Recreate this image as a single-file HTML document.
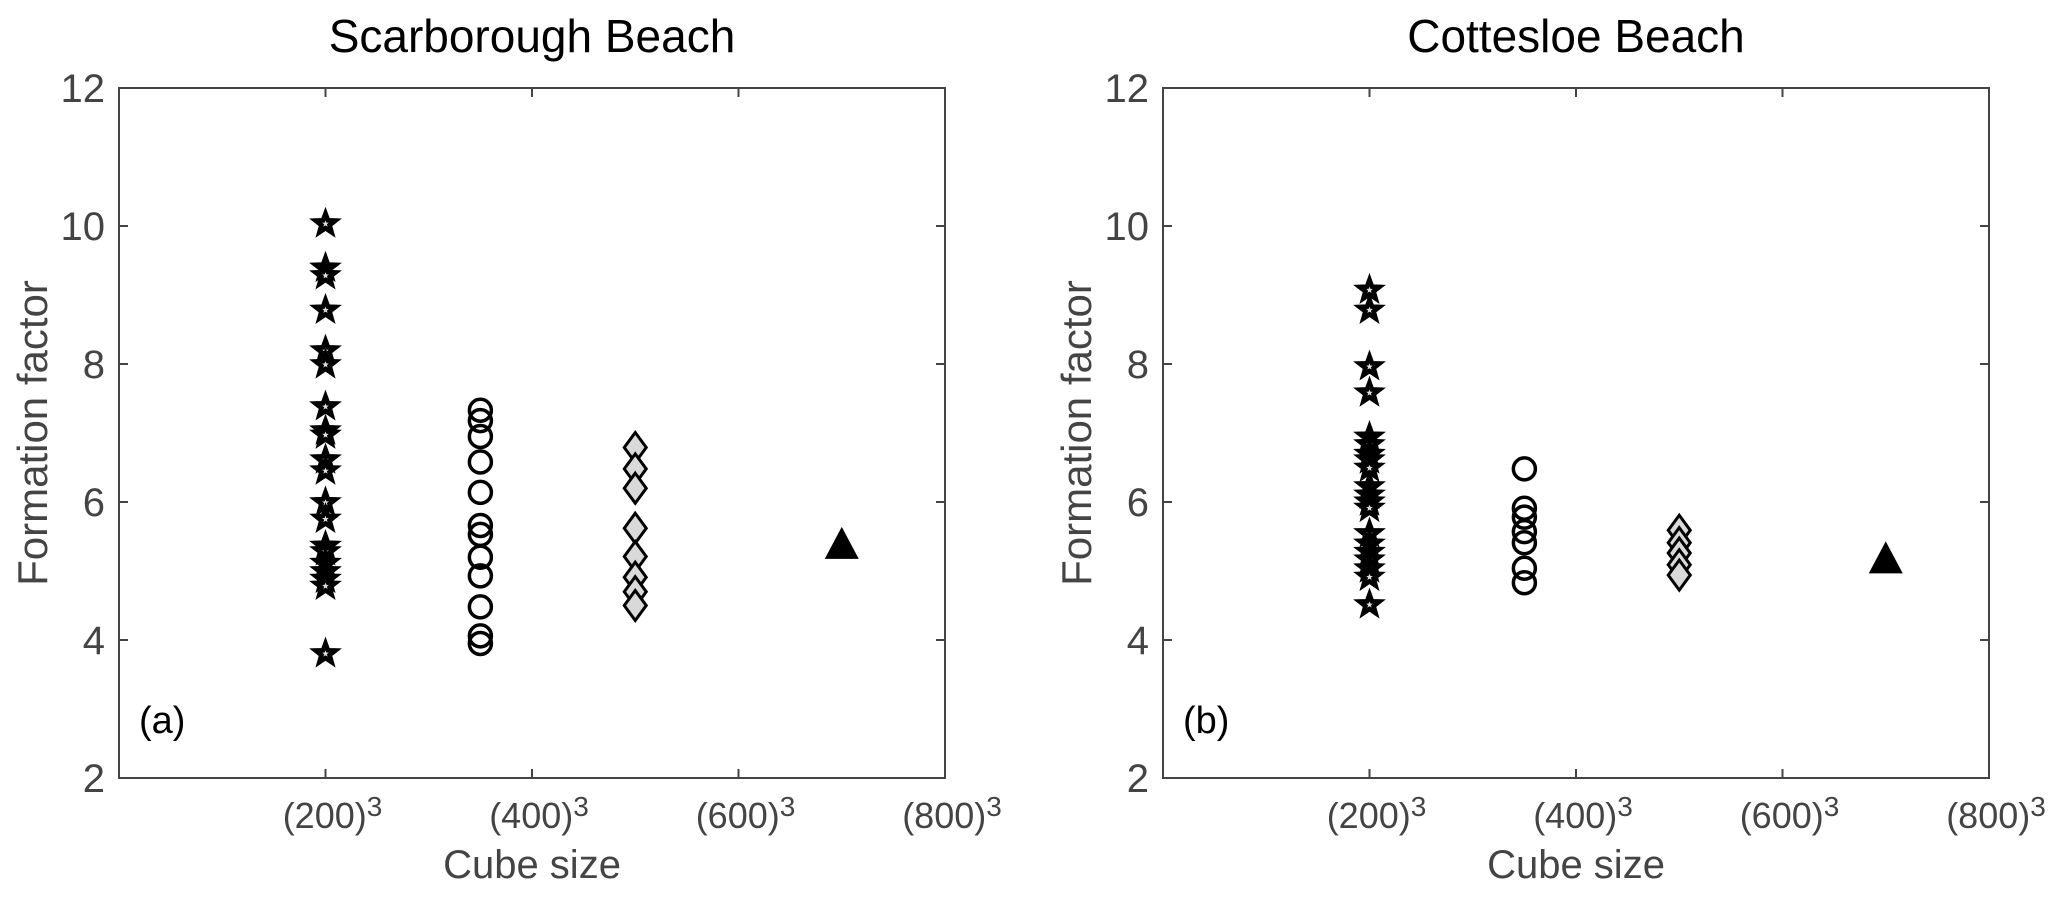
<!DOCTYPE html>
<html><head><meta charset="utf-8"><style>
html,body{margin:0;padding:0;background:#fff;}
svg{display:block;font-family:"Liberation Sans",sans-serif;}
</style></head><body>
<svg id="fig" width="2067" height="900" viewBox="0 0 2067 900"></svg>
<script>
const xTicks = [200, 400, 600, 800];
const xTickLabels = ["(200)", "(400)", "(600)", "(800)"];
const yTicks = [2, 4, 6, 8, 10, 12];
const panelTitles = ["Scarborough Beach", "Cottesloe Beach"];
const panelTags = ["(a)", "(b)"];
const seriesX = [200, 350, 500, 700];
const scarStars = [10.06, 9.42, 9.31, 8.81, 8.22, 8.02, 7.41, 7.06, 7.0, 6.64, 6.48, 6.02, 5.78, 5.39, 5.31, 5.14, 5.02, 4.91, 4.81, 3.83];
const scarCircles = [7.33, 7.18, 6.95, 6.58, 6.14, 5.66, 5.53, 5.2, 4.93, 4.48, 4.06, 3.95];
const scarDiamonds = [6.79, 6.48, 6.2, 5.62, 5.21, 4.91, 4.7, 4.5];
const scarTriangle = [5.35];
const cottStars = [9.10, 8.81, 7.99, 7.61, 6.97, 6.86, 6.72, 6.64, 6.52, 6.25, 6.13, 6.03, 5.94, 5.57, 5.42, 5.30, 5.19, 5.06, 4.94, 4.54];
const cottCircles = [6.48, 5.91, 5.78, 5.57, 5.41, 5.04, 4.83];
const cottDiamonds = [5.59, 5.41, 5.26, 5.09, 4.94];
const cottTriangle = [5.14];

const NS = "http://www.w3.org/2000/svg";
const svg = document.getElementById("fig");
function mk(tag, attrs, parent, text) {
  const e = document.createElementNS(NS, tag);
  for (const k in attrs) e.setAttribute(k, attrs[k]);
  if (text !== undefined) e.textContent = text;
  parent.appendChild(e);
  return e;
}
const plotTop = 88, plotBottom = 778, plotW = 826;
const yMin = 2, yMax = 12, xMin = 0, xMax = 800;
function starPts(cx, cy, R, r) {
  let p = [];
  for (let i = 0; i < 10; i++) {
    const a = -Math.PI / 2 + i * Math.PI / 5;
    const rr = i % 2 ? r : R;
    p.push((cx + rr * Math.cos(a)).toFixed(1) + "," + (cy + rr * Math.sin(a)).toFixed(1));
  }
  return p.join(" ");
}
function drawPanel(idx, left, stars, circles, diamonds, tri) {
  const g = mk("g", {}, svg);
  
  
  const xs = v => left + (v - xMin) / (xMax - xMin) * plotW;
  const ys = v => plotBottom - (v - yMin) / (yMax - yMin) * (plotBottom - plotTop);
  const t = mk("text", {x: left + plotW / 2, y: 52, "text-anchor": "middle", "font-size": 46, fill: "#000"}, g, panelTitles[idx]);
  
  
  const box = mk("rect", {x: left, y: plotTop, width: plotW, height: plotBottom - plotTop, fill: "none", stroke: "#444", "stroke-width": 2}, g);
  
  
  yTicks.forEach(v => {
    const y = ys(v);
    mk("line", {x1: left, x2: left + 9, y1: y, y2: y, stroke: "#444", "stroke-width": 2}, g);
    mk("line", {x1: left + plotW - 9, x2: left + plotW, y1: y, y2: y, stroke: "#444", "stroke-width": 2}, g);
    const l = mk("text", {x: left - 14, y: y + 14, "text-anchor": "end", "font-size": 40, fill: "#444"}, g, String(v));
    
    
  });
  xTicks.forEach((v, i) => {
    const x = xs(v);
    mk("line", {x1: x, x2: x, y1: plotBottom, y2: plotBottom - 9, stroke: "#444", "stroke-width": 2}, g);
    mk("line", {x1: x, x2: x, y1: plotTop, y2: plotTop + 9, stroke: "#444", "stroke-width": 2}, g);
    const l = mk("text", {x: x + 7, y: 828, "text-anchor": "middle", "font-size": 36, fill: "#444"}, g);
    
    
    mk("tspan", {}, l, xTickLabels[i]);
    mk("tspan", {dy: -12, "font-size": 28}, l, "3");
  });
  const xl = mk("text", {x: left + plotW / 2, y: 878, "text-anchor": "middle", "font-size": 40, fill: "#444"}, g, "Cube size");
  
  
  const yl = mk("text", {x: 0, y: 0, transform: `translate(${left - 72},${(plotTop + plotBottom) / 2}) rotate(-90)`, "text-anchor": "middle", "font-size": 42, fill: "#444"}, g, "Formation factor");
  
  
  const tg = mk("text", {x: left + 20, y: 733, "font-size": 38, fill: "#000"}, g, panelTags[idx]);
  
  
  stars.forEach(v => {
    const s = mk("polygon", {points: starPts(xs(seriesX[0]), ys(v) + 2, 15, 6.2), fill: "#000", stroke: "#000", "stroke-width": 1.5}, g);
    
    
    mk("polygon", {points: starPts(xs(seriesX[0]), ys(v) + 2, 3.5, 1.5), fill: "#ddd"}, g);
  });
  circles.forEach(v => {
    const c = mk("circle", {cx: xs(seriesX[1]), cy: ys(v), r: 11, fill: "none", stroke: "#000", "stroke-width": 3.5}, g);
    
    
  });
  diamonds.forEach(v => {
    const x = xs(seriesX[2]), y = ys(v);
    const d = mk("polygon", {points: `${x},${y - 15} ${x + 11},${y} ${x},${y + 15} ${x - 11},${y}`, fill: "#d9d9d9", stroke: "#000", "stroke-width": 3}, g);
    
    
  });
  tri.forEach(v => {
    const x = xs(seriesX[3]), y = ys(v);
    const p = mk("polygon", {points: `${x},${y - 20} ${x + 17},${y + 12} ${x - 17},${y + 12}`, fill: "#000"}, g);
    
    
  });
}
drawPanel(0, 119, scarStars, scarCircles, scarDiamonds, scarTriangle);
drawPanel(1, 1163, cottStars, cottCircles, cottDiamonds, cottTriangle);
</script>
</body></html>
